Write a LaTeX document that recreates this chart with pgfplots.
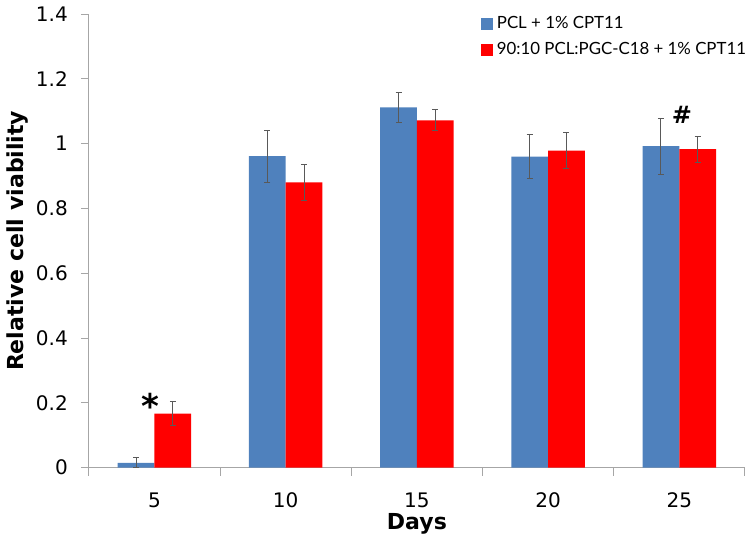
\documentclass[border=0pt]{standalone}
\usepackage{pgfplots}
\pgfplotsset{compat=1.18}
\usepackage{fontspec}
\setmainfont{DejaVu Sans}
\newfontfamily\legfont{Lato}
\definecolor{pclblue}{HTML}{4F81BD}
\definecolor{pclred}{HTML}{FF0000}

\begin{document}
\begin{tikzpicture}
\begin{axis}[
   scale only axis, width=327.5pt, height=226.5pt,
   ybar=0pt, bar width=0.28,
   xmin=-0.5, xmax=4.5, ymin=0, ymax=1.4,
   xtick={0,1,2,3,4}, xticklabels={5,10,15,20,25},
   minor xtick={-0.5,0.5,1.5,2.5,3.5,4.5},
   ytick={0,0.2,...,1.4},
   major x tick style={draw=none},
   axis x line*=bottom, axis y line*=left,
   axis line style={black!35, -},
   every tick/.style={black!35},
   tick align=outside, major tick length=4pt, minor tick length=4pt,
   tick label style={font=\fontsize{10}{11}\selectfont},
   /pgf/number format/assume math mode=true,
   yticklabel style={xshift=-3pt},
   xticklabel style={yshift=-5pt},
   xlabel={\textbf{Days}}, ylabel={\textbf{Relative cell viability}},
   label style={font=\fontsize{11}{12}\selectfont},
   xlabel style={at={(axis description cs:0.5,0)}, anchor=center, yshift=-28pt},
   ylabel style={yshift=-3pt},
   legend style={draw=none, fill=none, at={(0.597,1.0)}, anchor=north west,
     inner sep=0pt, yshift=1pt,
     font=\legfont\fontsize{8.4}{10}\selectfont, row sep=1.5pt,
     legend cell align=left},
   legend image code/.code={\fill[#1] (0cm,-0.1cm) rectangle (0.21cm,0.11cm);},
   error bars/y dir=both, error bars/y explicit,
   error bars/error bar style={black!65, line width=0.5pt},
   error bars/error mark options={rotate=90, black!65, mark size=1.5pt, line width=0.5pt},
]
\addplot[fill=pclblue, draw=none] coordinates {
  (0,0.015) +- (0,0.015)
  (1,0.961) +- (0,0.080)
  (2,1.112) +- (0,0.047)
  (3,0.960) +- (0,0.068)
  (4,0.992) +- (0,0.087)
};
\addplot[fill=pclred, draw=none] coordinates {
  (0,0.167) +- (0,0.037)
  (1,0.880) +- (0,0.055)
  (2,1.072) +- (0,0.033)
  (3,0.978) +- (0,0.055)
  (4,0.983) +- (0,0.040)
};
\legend{PCL + 1\% CPT11, 90:10 PCL:PGC-C18 + 1\% CPT11}
\node[font=\bfseries\fontsize{17}{17}\selectfont] at (axis cs:-0.03,0.19) {*};
\node[font=\bfseries\fontsize{12}{12}\selectfont] at (axis cs:4.02,1.088) {\#};
% frame of the page, as in the reference
\path (rel axis cs:0,0) ++(-44.5pt,-38pt);
\path (rel axis cs:1,1) ++(3pt,7pt);
\end{axis}
\end{tikzpicture}
\end{document}
